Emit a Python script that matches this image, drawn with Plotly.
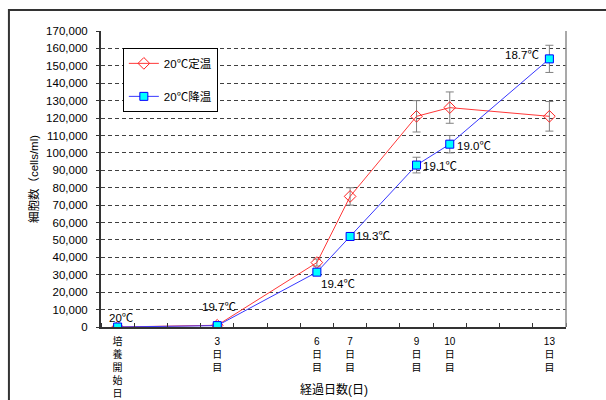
import re
import plotly.graph_objects as go

# Culture days and cell counts (cells/ml)
days = [0, 3, 6, 7, 9, 10, 13]
day_names = ["培養開始日", "3日目", "6日目", "7日目", "9日目", "10日目", "13日目"]

const_vals = [0, 1000, 37000, 75000, 121000, 126000, 121000]
const_err = [0, 300, 2000, 5000, 9000, 9000, 8500]

cool_vals = [0, 800, 31500, 52000, 93000, 105000, 154000]
cool_err = [0, 300, 500, 2000, 4500, 5000, 7800]
cool_temps = ["20℃", "19.7℃", "19.4℃", "19.3℃", "19.1℃", "19.0℃", "18.7℃"]

# pixel offsets of the temperature labels relative to their markers
label_shift = [(4, 9), (2, 19), (21, -12), (23, 0), (23, -1), (24, -2), (-27, 4)]

FONT = "Liberation Sans, Arial, Noto Sans CJK JP, sans-serif"


def vertical(name):
    # stack characters one per line, keeping digit runs together
    return "<br>".join(re.findall(r"\d+|.", name))


fig = go.Figure()

fig.add_trace(go.Scatter(
    x=days, y=const_vals, name="20℃定温", mode="lines+markers",
    line=dict(color="#FF3838", width=1),
    marker=dict(symbol="diamond-open", size=9, color="#FF2020", line=dict(width=1)),
    error_y=dict(type="data", array=const_err, color="#808080", thickness=1, width=4),
    legendgroup="a",
))
fig.add_trace(go.Scatter(
    x=days, y=cool_vals, name="20℃降温", mode="lines+markers",
    line=dict(color="#3838FF", width=1),
    marker=dict(symbol="square", size=8, color="#00FFFF", line=dict(color="#0000FF", width=1)),
    error_y=dict(type="data", array=cool_err, color="#808080", thickness=1, width=4),
    legendgroup="b",
))

for d, v, t, (dx, dy) in zip(days, cool_vals, cool_temps, label_shift):
    fig.add_annotation(x=d, y=v, text=t, showarrow=False, xshift=dx, yshift=dy,
                       font=dict(size=11.5, color="#000000", family=FONT))

# axis titles
fig.add_annotation(xref="paper", yref="paper", x=0.5, y=-0.21, text="経過日数(日)",
                   xanchor="center", yanchor="middle", showarrow=False,
                   font=dict(size=12, color="#000000", family=FONT))
fig.add_annotation(xref="paper", yref="paper", x=-0.146, y=0.5, text="細胞数（cells/ml)",
                   xanchor="center", yanchor="middle", textangle=-90, showarrow=False,
                   font=dict(size=11.5, color="#000000", family=FONT))

# outer chart frame and right plot border
fig.add_shape(type="rect", xref="paper", yref="paper",
              x0=-0.198, x1=1.2, y0=-0.35, y1=1.071,
              line=dict(color="#333333", width=2), layer="below")
fig.add_shape(type="line", xref="paper", yref="paper", x0=1, x1=1, y0=0, y1=1,
              line=dict(color="#8C8C8C", width=1.5))

fig.update_layout(
    width=606, height=400,
    margin=dict(l=101, r=40, t=31, b=73, autoexpand=False),
    paper_bgcolor="white", plot_bgcolor="white",
    font=dict(family=FONT, size=11, color="#000000"),
    showlegend=True,
    legend=dict(x=0.047, y=0.943, xanchor="left", yanchor="top",
                bgcolor="white", bordercolor="#000000", borderwidth=1,
                tracegroupgap=14, font=dict(size=11.5, family=FONT)),
)

fig.update_xaxes(
    range=[-0.5, 13.5], tickmode="array", tickvals=days,
    ticktext=[vertical(n) for n in day_names],
    ticks="", showgrid=False, zeroline=False, automargin=False,
    showline=True, linecolor="#333333", linewidth=1.5,
    tickfont=dict(size=10, family=FONT, color="#000000"),
    ticklabelstandoff=4,
    minor=dict(tickmode="array", tickvals=[k - 0.5 for k in range(15)],
               ticks="inside", ticklen=4, tickcolor="#333333", tickwidth=1),
)
fig.update_yaxes(
    range=[0, 170000], dtick=10000, tickformat=",d", automargin=False,
    ticks="outside", ticklen=3, tickcolor="#333333",
    showgrid=True, gridcolor="#404040", gridwidth=1, griddash="4px,3px",
    zeroline=False, showline=True, linecolor="#333333", linewidth=2,
    tickfont=dict(size=11.5, family=FONT, color="#000000"),
    ticklabelstandoff=6,
)

fig.write_html("out.html")
